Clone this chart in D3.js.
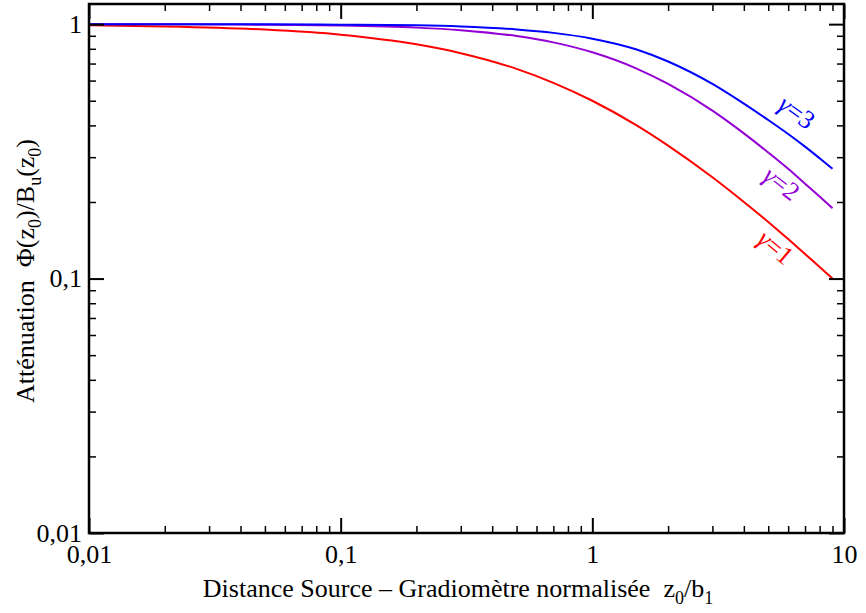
<!DOCTYPE html>
<html>
<head>
<meta charset="utf-8">
<script src="https://cdn.jsdelivr.net/npm/d3@7"></script>
<style>
  body { margin: 0; background: #fff; }
  text { font-family: "Liberation Serif", "DejaVu Serif", serif; fill: #000; }
</style>
</head>
<body>
<svg width="866" height="613"></svg>
<script>
// distance z0/b1 (x) and attenuation
var zValues = [0.01, 0.02, 0.05, 0.1, 0.2, 0.3, 0.5, 0.7, 1, 1.5, 2, 3, 4, 5, 6, 7, 8, 9];
var gamma1 = [0.99, 0.98, 0.952, 0.909, 0.833, 0.769, 0.667, 0.588, 0.5, 0.4, 0.333, 0.25, 0.2, 0.167, 0.143, 0.125, 0.111, 0.1];
var gamma2 = [1.0, 0.999, 0.995, 0.988, 0.969, 0.947, 0.898, 0.848, 0.775, 0.669, 0.582, 0.457, 0.372, 0.313, 0.27, 0.236, 0.21, 0.189];
var gamma3 = [1.0, 1.0, 0.998, 0.995, 0.989, 0.979, 0.953, 0.924, 0.877, 0.795, 0.713, 0.582, 0.487, 0.42, 0.37, 0.33, 0.297, 0.27];
var seriesNames = ["1", "2", "3"];
var seriesColors = ["#ff0000", "#9400d3", "#0000ff"];

var xMajor = [0.01, 0.1, 1, 10];
var xMajorLabels = ["0,01", "0,1", "1", "10"];
var yMajor = [0.01, 0.1, 1];
var yMajorLabels = ["0,01", "0,1", "1"];

var pLeft = 89, pRight = 844, pTop = 4, pBottom = 533;

var svg = d3.select("svg");

var x = d3.scaleLog().domain([0.01, 10]).range([pLeft, pRight]);
var y = d3.scaleLog().domain([0.01, 1.2]).range([pBottom, pTop]);

function minorsOf(majors, maxV) {
  var out = [];
  majors.forEach(function(m) {
    for (var k = 2; k <= 9; k++) { if (m * k < maxV) out.push(m * k); }
  });
  return out;
}
var xMinor = minorsOf(xMajor, 10);
var yMinor = minorsOf(yMajor, 1.2);

// curves
var line = d3.line()
    .x(function(d) { return x(d[0]); })
    .y(function(d) { return y(d[1]); })
    .curve(d3.curveMonotoneX);

var allSeries = [gamma1, gamma2, gamma3];
allSeries.forEach(function(vals, i) {
  var pts = zValues.map(function(z, j) { return [z, vals[j]]; });
  svg.append("path")
      .attr("d", line(pts))
      .attr("fill", "none")
      .attr("stroke", seriesColors[i])
      .attr("stroke-width", 2);
});

// axes: major and minor ticks, pointing inward, mirrored
function styleAxis(g, w) {
  g.select(".domain").remove();
  g.selectAll(".tick line").attr("stroke", "#000").attr("stroke-width", w);
}

svg.append("g").attr("transform", "translate(0," + pBottom + ")")
    .call(d3.axisBottom(x).tickValues(xMajor).tickSizeInner(-15).tickSizeOuter(0).tickPadding(12)
      .tickFormat(function(d, i) { return xMajorLabels[i]; }))
    .call(styleAxis, 2)
    .selectAll("text").style("font-size", "26px").attr("fill", "#000");
svg.append("g").attr("transform", "translate(0," + pBottom + ")")
    .call(d3.axisBottom(x).tickValues(xMinor).tickSizeInner(-7).tickSizeOuter(0).tickFormat(""))
    .call(styleAxis, 1.5);
svg.append("g").attr("transform", "translate(0," + pTop + ")")
    .call(d3.axisTop(x).tickValues(xMajor).tickSizeInner(-15).tickSizeOuter(0).tickFormat(""))
    .call(styleAxis, 2);
svg.append("g").attr("transform", "translate(0," + pTop + ")")
    .call(d3.axisTop(x).tickValues(xMinor).tickSizeInner(-7).tickSizeOuter(0).tickFormat(""))
    .call(styleAxis, 1.5);

svg.append("g").attr("transform", "translate(" + pLeft + ",0)")
    .call(d3.axisLeft(y).tickValues(yMajor).tickSizeInner(-15).tickSizeOuter(0).tickPadding(7)
      .tickFormat(function(d, i) { return yMajorLabels[i]; }))
    .call(styleAxis, 2)
    .selectAll("text").style("font-size", "26px").attr("fill", "#000");
svg.append("g").attr("transform", "translate(" + pLeft + ",0)")
    .call(d3.axisLeft(y).tickValues(yMinor).tickSizeInner(-7).tickSizeOuter(0).tickFormat(""))
    .call(styleAxis, 1.5);
svg.append("g").attr("transform", "translate(" + pRight + ",0)")
    .call(d3.axisRight(y).tickValues(yMajor).tickSizeInner(-15).tickSizeOuter(0).tickFormat(""))
    .call(styleAxis, 2);
svg.append("g").attr("transform", "translate(" + pRight + ",0)")
    .call(d3.axisRight(y).tickValues(yMinor).tickSizeInner(-7).tickSizeOuter(0).tickFormat(""))
    .call(styleAxis, 1.5);

// frame
svg.append("rect")
    .attr("x", pLeft).attr("y", pTop)
    .attr("width", pRight - pLeft).attr("height", pBottom - pTop)
    .attr("fill", "none").attr("stroke", "#000").attr("stroke-width", 2.5);

// curve labels (position in data units + rotation)
var labelPos = [[5.36, 0.133, 40], [5.66, 0.237, 38], [6.5, 0.452, 36]];
labelPos.forEach(function(p, i) {
  var t = svg.append("text")
      .attr("transform", "translate(" + x(p[0]) + "," + y(p[1]) + ") rotate(" + p[2] + ")")
      .attr("text-anchor", "middle")
      .attr("dy", "0.35em")
      .style("font-size", "26px")
      .style("fill", seriesColors[i]);
  t.append("tspan").style("font-style", "italic").text("\u03b3");
  t.append("tspan").text("=" + seriesNames[i]);
});

// axis titles
var xt = svg.append("text")
    .attr("x", 458).attr("y", 597)
    .attr("text-anchor", "middle")
    .style("font-size", "26px")
    .style("white-space", "pre");
xt.append("tspan").text("Distance Source \u2013 Gradiom\u00e8tre normalis\u00e9e  z");
xt.append("tspan").attr("dy", 7).style("font-size", "18px").text("0");
xt.append("tspan").attr("dy", -7).text("/b");
xt.append("tspan").attr("dy", 7).style("font-size", "18px").text("1");

var yt = svg.append("text")
    .attr("transform", "translate(34,271) rotate(-90)")
    .attr("text-anchor", "middle")
    .style("font-size", "26px")
    .style("white-space", "pre");
yt.append("tspan").text("Att\u00e9nuation  \u03a6(z");
yt.append("tspan").attr("dy", 7).style("font-size", "18px").text("0");
yt.append("tspan").attr("dy", -7).text(")/B");
yt.append("tspan").attr("dy", 7).style("font-size", "18px").text("u");
yt.append("tspan").attr("dy", -7).text("(z");
yt.append("tspan").attr("dy", 7).style("font-size", "18px").text("0");
yt.append("tspan").attr("dy", -7).text(")");
</script>
</body>
</html>
